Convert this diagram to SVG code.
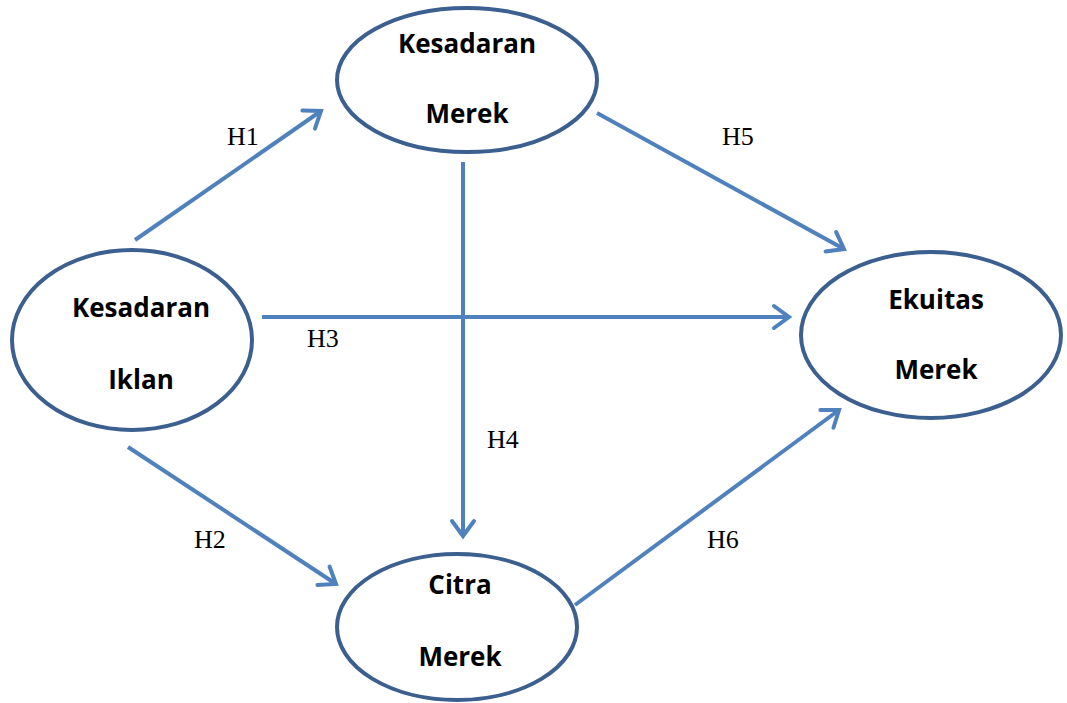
<svg xmlns="http://www.w3.org/2000/svg" width="1067" height="703" viewBox="0 0 1067 703">
<style>
.node ellipse{fill:#fff;stroke:#3B5F8F;stroke-width:4}
.node text{font-family:"Open Sans","Liberation Sans",sans-serif;font-weight:bold;font-size:26px;fill:#000;text-anchor:middle}
.conn line{stroke:#4F81BD;stroke-width:4;marker-end:url(#ah)}
.lbl{font-family:"Liberation Serif",serif;font-size:26px;fill:#000}
</style>
<defs>
<marker id="ah" markerUnits="userSpaceOnUse" viewBox="-20 -14 24 28" markerWidth="24" markerHeight="28" refX="0" refY="0" orient="auto">
<path d="M-15 -11 L0 0 L-15 11" fill="none" stroke="#4F81BD" stroke-width="4" stroke-linecap="round" stroke-linejoin="miter"/>
</marker>
</defs>
<g id="connectors" class="conn">
<line x1="135" y1="240" x2="321" y2="111"/>
<line x1="597" y1="113" x2="844" y2="249"/>
<line x1="262" y1="317" x2="789" y2="317"/>
<line x1="463" y1="162" x2="463" y2="536"/>
<line x1="128" y1="447" x2="336" y2="584"/>
<line x1="575" y1="605" x2="839" y2="410"/>
</g>
<g id="labels">
<text class="lbl" x="227" y="145">H1</text>
<text class="lbl" x="722" y="145">H5</text>
<text class="lbl" x="307" y="347">H3</text>
<text class="lbl" x="487" y="448">H4</text>
<text class="lbl" x="194" y="548">H2</text>
<text class="lbl" x="707" y="548">H6</text>
</g>
<g id="kesadaran-merek" class="node">
<ellipse cx="467" cy="80" rx="130" ry="72"/>
<text x="467" y="53">Kesadaran</text>
<text x="467" y="123">Merek</text>
</g>
<g id="kesadaran-iklan" class="node">
<ellipse cx="132" cy="340" rx="120" ry="90"/>
<text x="141" y="317">Kesadaran</text>
<text x="141" y="389">Iklan</text>
</g>
<g id="ekuitas-merek" class="node">
<ellipse cx="931" cy="335" rx="130" ry="83"/>
<text x="936" y="309">Ekuitas</text>
<text x="936" y="379">Merek</text>
</g>
<g id="citra-merek" class="node">
<ellipse cx="457" cy="627" rx="120" ry="73"/>
<text x="460" y="594">Citra</text>
<text x="460" y="666">Merek</text>
</g>
</svg>
